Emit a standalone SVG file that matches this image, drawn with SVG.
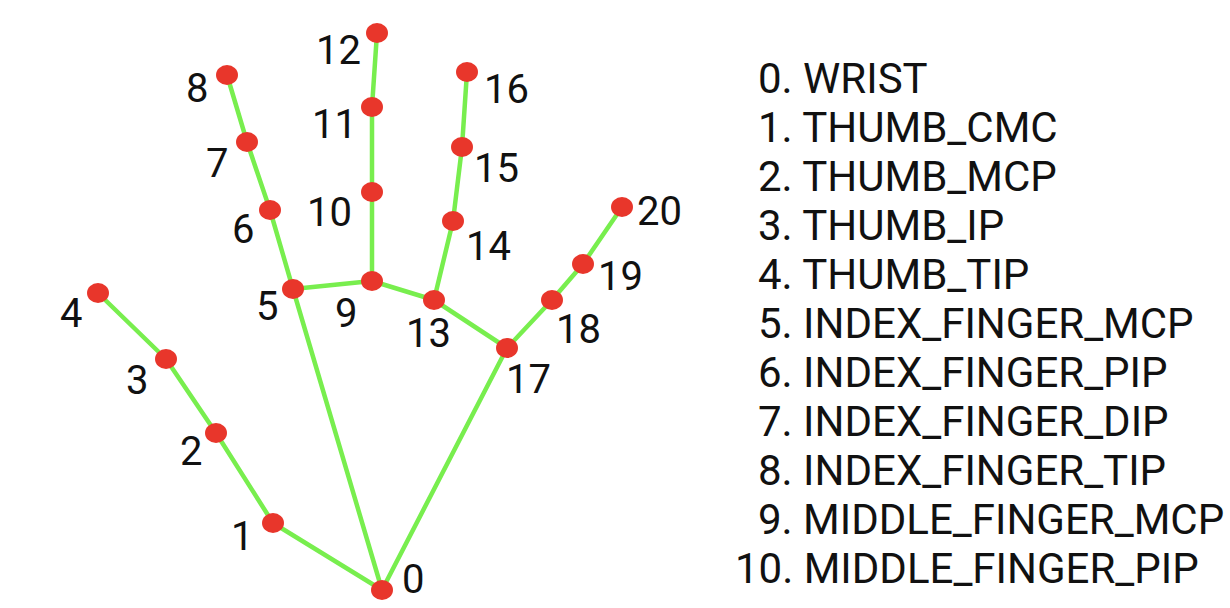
<svg xmlns="http://www.w3.org/2000/svg" width="1230" height="608" viewBox="0 0 1230 608">
<style>
.e{stroke:#78EE4E;stroke-width:4.5;stroke-linecap:round;fill:none}
.n{fill:#E8362B}
.l{font-family:Roboto,"Liberation Sans",sans-serif;font-size:40px;fill:#111}
.t{font-family:Roboto,"Liberation Sans",sans-serif;font-size:42px;fill:#111}
</style>
<rect width="1230" height="608" fill="#fff"/>
<g id="connectors">
<line class="e" x1="382" y1="590" x2="273" y2="523"/>
<line class="e" x1="273" y1="523" x2="216" y2="433"/>
<line class="e" x1="216" y1="433" x2="166" y2="359"/>
<line class="e" x1="166" y1="359" x2="98" y2="293"/>
<line class="e" x1="382" y1="590" x2="293" y2="289"/>
<line class="e" x1="293" y1="289" x2="270" y2="210"/>
<line class="e" x1="270" y1="210" x2="247" y2="142"/>
<line class="e" x1="247" y1="142" x2="227" y2="75"/>
<line class="e" x1="293" y1="289" x2="372" y2="281"/>
<line class="e" x1="372" y1="281" x2="372" y2="192"/>
<line class="e" x1="372" y1="192" x2="372" y2="107"/>
<line class="e" x1="372" y1="107" x2="377" y2="33"/>
<line class="e" x1="372" y1="281" x2="434" y2="300"/>
<line class="e" x1="434" y1="300" x2="453" y2="221"/>
<line class="e" x1="453" y1="221" x2="462" y2="147"/>
<line class="e" x1="462" y1="147" x2="467" y2="72"/>
<line class="e" x1="434" y1="300" x2="507" y2="348"/>
<line class="e" x1="507" y1="348" x2="552" y2="300"/>
<line class="e" x1="552" y1="300" x2="583" y2="264"/>
<line class="e" x1="583" y1="264" x2="622" y2="207"/>
<line class="e" x1="382" y1="590" x2="507" y2="348"/>
</g>
<g id="n0"><ellipse class="n" cx="382" cy="590" rx="11" ry="10"/><text class="l" x="402" y="593">0</text></g>
<g id="n1"><ellipse class="n" cx="273" cy="523" rx="11" ry="10"/><text class="l" x="231" y="550">1</text></g>
<g id="n2"><ellipse class="n" cx="216" cy="433" rx="11" ry="10"/><text class="l" x="180" y="465">2</text></g>
<g id="n3"><ellipse class="n" cx="166" cy="359" rx="11" ry="10"/><text class="l" x="126" y="394">3</text></g>
<g id="n4"><ellipse class="n" cx="98" cy="293" rx="11" ry="10"/><text class="l" x="60" y="327">4</text></g>
<g id="n5"><ellipse class="n" cx="293" cy="289" rx="11" ry="10"/><text class="l" x="256" y="320">5</text></g>
<g id="n6"><ellipse class="n" cx="270" cy="210" rx="11" ry="10"/><text class="l" x="232" y="243">6</text></g>
<g id="n7"><ellipse class="n" cx="247" cy="142" rx="11" ry="10"/><text class="l" x="206" y="177">7</text></g>
<g id="n8"><ellipse class="n" cx="227" cy="75" rx="11" ry="10"/><text class="l" x="186" y="102">8</text></g>
<g id="n9"><ellipse class="n" cx="372" cy="281" rx="11" ry="10"/><text class="l" x="335" y="327">9</text></g>
<g id="n10"><ellipse class="n" cx="372" cy="192" rx="11" ry="10"/><text class="l" x="307" y="226">10</text></g>
<g id="n11"><ellipse class="n" cx="372" cy="107" rx="11" ry="10"/><text class="l" x="312" y="138">11</text></g>
<g id="n12"><ellipse class="n" cx="377" cy="33" rx="11" ry="10"/><text class="l" x="316" y="64">12</text></g>
<g id="n13"><ellipse class="n" cx="434" cy="300" rx="11" ry="10"/><text class="l" x="406" y="347">13</text></g>
<g id="n14"><ellipse class="n" cx="453" cy="221" rx="11" ry="10"/><text class="l" x="466" y="260">14</text></g>
<g id="n15"><ellipse class="n" cx="462" cy="147" rx="11" ry="10"/><text class="l" x="474" y="182">15</text></g>
<g id="n16"><ellipse class="n" cx="467" cy="72" rx="11" ry="10"/><text class="l" x="484" y="103">16</text></g>
<g id="n17"><ellipse class="n" cx="507" cy="348" rx="11" ry="10"/><text class="l" x="506" y="393">17</text></g>
<g id="n18"><ellipse class="n" cx="552" cy="300" rx="11" ry="10"/><text class="l" x="556" y="343">18</text></g>
<g id="n19"><ellipse class="n" cx="583" cy="264" rx="11" ry="10"/><text class="l" x="598" y="290">19</text></g>
<g id="n20"><ellipse class="n" cx="622" cy="207" rx="11" ry="10"/><text class="l" x="637" y="225">20</text></g>
<g id="legend">
<text class="t" x="758" y="93">0. WRIST</text>
<text class="t" x="758" y="142">1. THUMB_CMC</text>
<text class="t" x="758" y="191">2. THUMB_MCP</text>
<text class="t" x="758" y="240">3. THUMB_IP</text>
<text class="t" x="758" y="289">4. THUMB_TIP</text>
<text class="t" x="758" y="338">5. INDEX_FINGER_MCP</text>
<text class="t" x="758" y="387">6. INDEX_FINGER_PIP</text>
<text class="t" x="758" y="436">7. INDEX_FINGER_DIP</text>
<text class="t" x="758" y="485">8. INDEX_FINGER_TIP</text>
<text class="t" x="758" y="534">9. MIDDLE_FINGER_MCP</text>
<text class="t" x="735" y="583">10. MIDDLE_FINGER_PIP</text>
</g>
</svg>
